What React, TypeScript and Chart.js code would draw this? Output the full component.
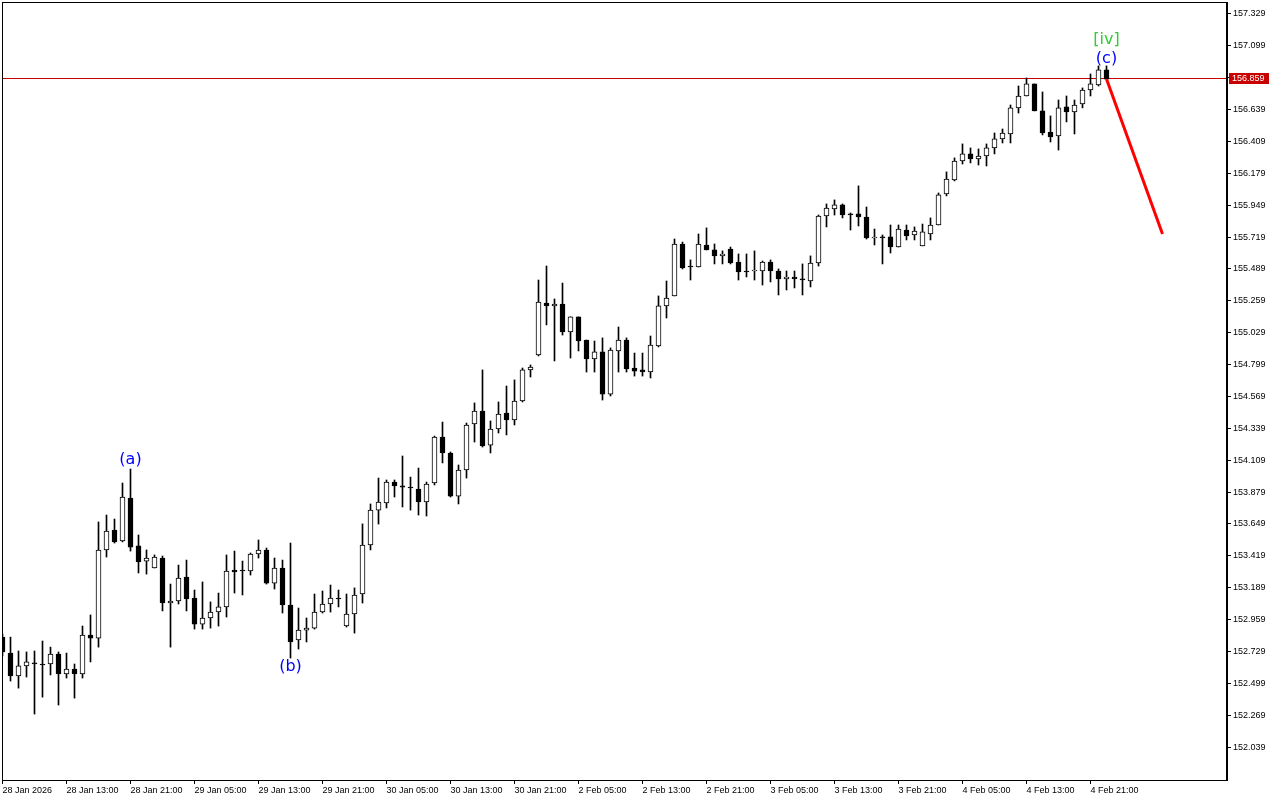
import React, { useEffect, useRef } from 'react';
import { Chart, registerables } from 'chart.js';

Chart.register(...registerables);

// Hourly candles, 28 Jan 2026 05:00 -> 4 Feb 2026 23:00 (index = bar number)
const opens = [
  152.832, 152.717, 152.552, 152.624, 152.646, 152.638, 152.638, 152.710, 152.566, 152.602,
  152.566, 152.847, 152.825, 153.461, 153.605, 153.526, 153.836, 153.490, 153.381, 153.331,
  153.403, 153.078, 153.093, 153.266, 153.114, 152.926, 152.970, 153.013, 153.050, 153.316,
  153.316, 153.309, 153.432, 153.461, 153.222, 153.331, 153.064, 152.811, 152.883, 152.897,
  153.013, 153.071, 153.114, 152.912, 152.999, 153.143, 153.497, 153.749, 153.800, 153.951,
  153.923, 153.915, 153.901, 153.807, 153.944, 154.276, 154.161, 153.850, 154.038, 154.370,
  154.464, 154.218, 154.334, 154.449, 154.399, 154.536, 154.760, 154.868, 155.243, 155.222,
  155.236, 155.034, 155.143, 154.976, 154.839, 154.890, 154.586, 154.897, 154.976, 154.774,
  154.760, 154.745, 154.933, 155.222, 155.294, 155.669, 155.510, 155.503, 155.662, 155.626,
  155.583, 155.633, 155.539, 155.474, 155.474, 155.474, 155.539, 155.474, 155.417, 155.431,
  155.417, 155.402, 155.532, 155.871, 155.922, 155.951, 155.886, 155.886, 155.864, 155.712,
  155.720, 155.720, 155.647, 155.770, 155.734, 155.655, 155.741, 155.806, 156.030, 156.131,
  156.268, 156.319, 156.282, 156.304, 156.362, 156.427, 156.463, 156.651, 156.737, 156.824,
  156.629, 156.477, 156.448, 156.658, 156.622, 156.680, 156.780, 156.817, 156.925,
];
const highs = [
  152.854, 152.832, 152.732, 152.725, 152.732, 152.804, 152.760, 152.725, 152.717, 152.638,
  152.912, 152.992, 153.663, 153.713, 153.684, 153.944, 154.045, 153.569, 153.461, 153.425,
  153.417, 153.215, 153.352, 153.388, 153.172, 153.230, 153.086, 153.150, 153.425, 153.453,
  153.381, 153.439, 153.533, 153.475, 153.403, 153.388, 153.511, 153.042, 152.970, 153.143,
  153.165, 153.208, 153.172, 153.143, 153.187, 153.649, 153.793, 153.980, 153.966, 153.966,
  154.139, 153.987, 154.052, 153.951, 154.283, 154.384, 154.168, 154.074, 154.377, 154.522,
  154.760, 154.392, 154.529, 154.644, 154.688, 154.774, 154.796, 155.409, 155.510, 155.272,
  155.387, 155.143, 155.143, 154.976, 154.969, 154.991, 154.919, 155.070, 154.991, 154.882,
  154.882, 155.005, 155.294, 155.402, 155.705, 155.683, 155.554, 155.741, 155.785, 155.669,
  155.619, 155.647, 155.597, 155.597, 155.619, 155.546, 155.554, 155.489, 155.474, 155.474,
  155.525, 155.583, 155.878, 155.958, 155.987, 155.958, 155.893, 156.088, 155.936, 155.777,
  155.734, 155.806, 155.806, 155.806, 155.792, 155.813, 155.857, 156.037, 156.189, 156.290,
  156.391, 156.362, 156.355, 156.391, 156.470, 156.499, 156.672, 156.809, 156.867, 156.824,
  156.766, 156.593, 156.708, 156.737, 156.708, 156.795, 156.896, 156.954, 156.954,
];
const lows = [
  152.696, 152.515, 152.464, 152.544, 152.277, 152.399, 152.559, 152.342, 152.537, 152.392,
  152.537, 152.653, 152.760, 153.410, 153.511, 153.519, 153.453, 153.295, 153.287, 153.331,
  153.021, 152.760, 153.071, 153.021, 152.890, 152.890, 152.897, 152.912, 152.977, 153.150,
  153.136, 153.280, 153.403, 153.215, 153.179, 153.006, 152.681, 152.746, 152.797, 152.890,
  153.006, 153.013, 153.050, 152.905, 152.861, 153.078, 153.461, 153.648, 153.764, 153.843,
  153.771, 153.749, 153.713, 153.706, 153.930, 154.089, 153.843, 153.793, 153.980, 154.240,
  154.204, 154.161, 154.305, 154.291, 154.363, 154.529, 154.709, 154.861, 155.085, 154.825,
  155.012, 154.846, 154.897, 154.745, 154.745, 154.543, 154.572, 154.745, 154.745, 154.716,
  154.716, 154.702, 154.926, 155.135, 155.294, 155.489, 155.409, 155.503, 155.626, 155.525,
  155.525, 155.525, 155.409, 155.431, 155.409, 155.373, 155.395, 155.301, 155.337, 155.352,
  155.301, 155.359, 155.510, 155.792, 155.878, 155.857, 155.770, 155.799, 155.705, 155.662,
  155.525, 155.604, 155.647, 155.698, 155.698, 155.655, 155.698, 155.806, 156.016, 156.124,
  156.246, 156.254, 156.239, 156.232, 156.319, 156.398, 156.398, 156.614, 156.737, 156.629,
  156.456, 156.405, 156.347, 156.550, 156.463, 156.651, 156.737, 156.809, 156.859,
];
const closes = [
  152.725, 152.552, 152.624, 152.653, 152.638, 152.631, 152.710, 152.566, 152.602, 152.566,
  152.847, 152.825, 153.461, 153.598, 153.519, 153.843, 153.482, 153.374, 153.403, 153.410,
  153.078, 153.093, 153.259, 153.107, 152.926, 152.970, 153.013, 153.050, 153.309, 153.302,
  153.309, 153.432, 153.461, 153.222, 153.331, 153.064, 152.797, 152.883, 152.897, 153.013,
  153.071, 153.114, 153.107, 152.999, 153.136, 153.497, 153.749, 153.807, 153.951, 153.923,
  153.915, 153.908, 153.807, 153.937, 154.276, 154.161, 153.850, 154.038, 154.363, 154.464,
  154.211, 154.334, 154.442, 154.399, 154.536, 154.760, 154.781, 155.250, 155.222, 155.236,
  155.034, 155.143, 154.969, 154.839, 154.890, 154.586, 154.904, 154.976, 154.767, 154.752,
  154.745, 154.940, 155.222, 155.279, 155.669, 155.496, 155.503, 155.669, 155.626, 155.583,
  155.597, 155.532, 155.467, 155.467, 155.474, 155.539, 155.474, 155.417, 155.431, 155.417,
  155.409, 155.532, 155.871, 155.929, 155.951, 155.878, 155.878, 155.864, 155.712, 155.712,
  155.712, 155.647, 155.777, 155.727, 155.763, 155.756, 155.806, 156.023, 156.138, 156.268,
  156.319, 156.282, 156.304, 156.362, 156.427, 156.470, 156.651, 156.737, 156.824, 156.629,
  156.470, 156.441, 156.651, 156.622, 156.672, 156.780, 156.824, 156.925, 156.859,
];

const timeTickIndex = [0, 8, 16, 24, 32, 40, 48, 56, 64, 72, 80, 88, 96, 104, 112, 120, 128, 136];
const timeTickLabels = [
  '28 Jan 2026', '28 Jan 13:00', '28 Jan 21:00', '29 Jan 05:00', '29 Jan 13:00', '29 Jan 21:00',
  '30 Jan 05:00', '30 Jan 13:00', '30 Jan 21:00', '2 Feb 05:00', '2 Feb 13:00', '2 Feb 21:00',
  '3 Feb 05:00', '3 Feb 13:00', '3 Feb 21:00', '4 Feb 05:00', '4 Feb 13:00', '4 Feb 21:00',
];
const priceTicks = [
  152.039, 152.269, 152.499, 152.729, 152.959, 153.189, 153.419, 153.649, 153.879, 154.109,
  154.339, 154.569, 154.799, 155.029, 155.259, 155.489, 155.719, 155.949, 156.179, 156.409,
  156.639, 156.869, 157.099, 157.329,
];

const lastPrice = 156.859;
const projectionIndex = [138, 145];
const projectionPrice = [156.859, 155.741];

const waveLabels = ['(a)', '(b)', '(c)', '[iv]'];
const waveIndex = [16, 36, 138, 138];
const wavePrice = [154.110, 152.616, 157.004, 157.141];
const waveColors = ['#0000ff', '#0000ff', '#0000ff', '#32cd32'];

const X_MIN = 0.0625;
const X_MAX = 153.0625;
const Y_MIN = 151.801;
const Y_MAX = 157.408;

const AXIS_FONT = { family: 'Liberation Sans', size: 9 };

const overlayPlugin = {
  id: 'overlay',
  beforeDatasetsDraw(chart: any) {
    const { ctx, chartArea, scales } = chart;
    // current bid line
    const yy = Math.floor(scales.y.getPixelForValue(lastPrice)) - 0.5;
    ctx.save();
    ctx.strokeStyle = '#c80000';
    ctx.lineWidth = 1;
    ctx.beginPath();
    ctx.moveTo(scales.x.getPixelForValue(X_MIN), yy);
    ctx.lineTo(chartArea.right, yy);
    ctx.stroke();
    ctx.restore();
  },
  afterDatasetsDraw(chart: any) {
    const { ctx, scales } = chart;
    ctx.save();
    ctx.font = '16px "DejaVu Sans"';
    ctx.textAlign = 'center';
    ctx.textBaseline = 'middle';
    waveLabels.forEach((t, k) => {
      ctx.fillStyle = waveColors[k];
      ctx.fillText(t, scales.x.getPixelForValue(waveIndex[k]), scales.y.getPixelForValue(wavePrice[k]));
    });
    ctx.restore();
  },
  afterDraw(chart: any) {
    const { ctx, chartArea, scales } = chart;
    const { left, top, right, bottom } = chartArea;
    ctx.save();
    ctx.fillStyle = '#000';
    ctx.fillRect(left - 1, top - 1, right - left + 1, 1);
    ctx.fillRect(left - 1, top - 1, 1, bottom - top + 2);
    ctx.fillRect(left - 1, bottom, right - left + 1, 1);
    ctx.fillRect(right - 1, top - 1, 2, bottom - top + 2);
    // current price label
    const py = Math.floor(scales.y.getPixelForValue(lastPrice)) - 1;
    ctx.fillStyle = '#c80000';
    ctx.fillRect(right + 2, py - 5, 40, 11);
    ctx.fillStyle = '#ffffff';
    ctx.font = '9px "Liberation Sans"';
    ctx.textAlign = 'left';
    ctx.textBaseline = 'middle';
    ctx.fillText(lastPrice.toFixed(3), right + 5, py + 0.5);
    ctx.restore();
  },
};

export default function App() {
  const ref = useRef<HTMLCanvasElement>(null);

  useEffect(() => {
    const canvas = ref.current;
    if (!canvas) return;
    const bodyData = opens.map((o, k) => ({ x: k, y: [o, closes[k]] }));
    const wickData = lows.map((l, k) => ({ x: k, y: [l, highs[k]] }));
    const bodyColors = opens.map((o, k) => (closes[k] >= o ? '#ffffff' : '#000000'));

    const chart = new Chart(canvas, {
      type: 'bar',
      data: {
        datasets: [
          {
            type: 'bar',
            data: wickData,
            backgroundColor: '#000000',
            borderWidth: 0,
            barThickness: 1,
            grouped: false,
            minBarLength: 1,
            order: 2,
          } as any,
          {
            type: 'bar',
            data: bodyData,
            backgroundColor: bodyColors,
            borderColor: '#000000',
            borderWidth: 1,
            borderSkipped: false,
            barThickness: 5,
            grouped: false,
            minBarLength: 1,
            order: 1,
          } as any,
          {
            type: 'line',
            data: projectionIndex.map((x, k) => ({ x, y: projectionPrice[k] })),
            borderColor: '#ff0000',
            borderWidth: 3,
            pointRadius: 0,
            order: 0,
          } as any,
        ],
      },
      options: {
        animation: false,
        responsive: false,
        devicePixelRatio: 1,
        events: [],
        layout: { padding: { left: 3, top: 3, right: 0, bottom: 0 } },
        plugins: { legend: { display: false }, tooltip: { enabled: false } },
        scales: {
          x: {
            type: 'linear',
            position: 'bottom',
            min: X_MIN,
            max: X_MAX,
            offset: false,
            grid: { drawOnChartArea: false, drawTicks: true, tickLength: 4, color: '#000', offset: false },
            border: { display: false },
            afterBuildTicks: (s: any) => {
              s.ticks = timeTickIndex.map((v) => ({ value: v }));
            },
            afterFit: (s: any) => {
              s.height = 20;
              s.paddingLeft = 0;
              s.paddingRight = 0;
            },
            ticks: {
              autoSkip: false,
              maxRotation: 0,
              minRotation: 0,
              align: 'start',
              padding: 1,
              color: '#000',
              font: AXIS_FONT,
              callback: (_v: any, i: number) => timeTickLabels[i],
            },
          },
          y: {
            type: 'linear',
            position: 'right',
            min: Y_MIN,
            max: Y_MAX,
            beginAtZero: false,
            grid: { drawOnChartArea: false, drawTicks: true, tickLength: 4, color: '#000' },
            border: { display: false },
            afterBuildTicks: (s: any) => {
              s.ticks = priceTicks.map((v) => ({ value: v }));
            },
            afterFit: (s: any) => {
              s.width = 53;
              s.paddingTop = 0;
              s.paddingBottom = 0;
            },
            ticks: {
              autoSkip: false,
              padding: 2,
              color: '#000',
              font: AXIS_FONT,
              callback: (v: any) => Number(v).toFixed(3),
            },
          },
        },
      } as any,
      plugins: [overlayPlugin],
    });
    return () => chart.destroy();
  }, []);

  return (
    <div style={{ position: 'fixed', left: 0, top: 0, width: 1280, height: 800, background: '#ffffff' }}>
      <canvas ref={ref} width={1280} height={800} style={{ display: 'block', width: 1280, height: 800 }} />
    </div>
  );
}
